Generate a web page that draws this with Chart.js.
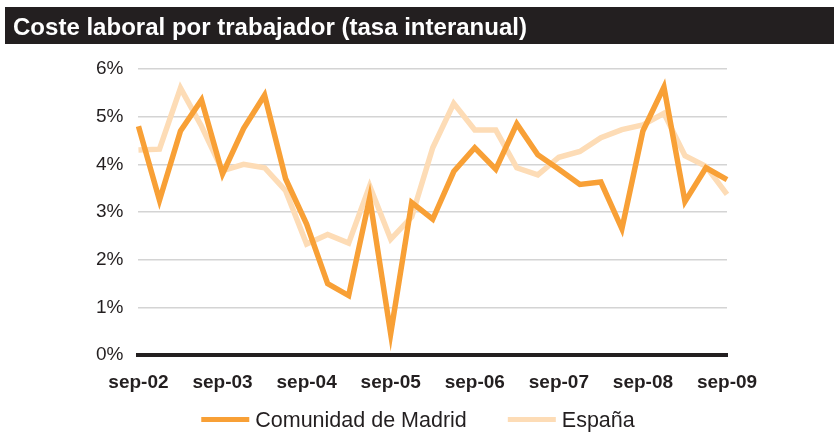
<!DOCTYPE html>
<html lang="es">
<head>
<meta charset="utf-8">
<title>Coste laboral por trabajador</title>
<script src="https://cdn.jsdelivr.net/npm/chart.js@4/dist/chart.umd.min.js"></script>
<style>
  html, body { margin: 0; padding: 0; background: #fff; }
  canvas { display: block; }
</style>
</head>
<body>
<canvas id="coste" width="834" height="432"></canvas>
<script>
// Trimestres, de sep-02 a sep-09
const trimestres = [
  'sep-02', 'dic-02', 'mar-03', 'jun-03',
  'sep-03', 'dic-03', 'mar-04', 'jun-04',
  'sep-04', 'dic-04', 'mar-05', 'jun-05',
  'sep-05', 'dic-05', 'mar-06', 'jun-06',
  'sep-06', 'dic-06', 'mar-07', 'jun-07',
  'sep-07', 'dic-07', 'mar-08', 'jun-08',
  'sep-08', 'dic-08', 'mar-09', 'jun-09',
  'sep-09',
];

// Tasa interanual (%)
const madrid = [
  4.80, 3.25, 4.70, 5.35, 3.80, 4.75, 5.45, 3.70,
  2.75, 1.50, 1.25, 3.30, 0.45, 3.20, 2.85, 3.85,
  4.35, 3.90, 4.85, 4.20, 3.90, 3.58, 3.63, 2.65,
  4.70, 5.62, 3.22, 3.93, 3.68,
];
const espana = [
  4.30, 4.32, 5.60, 4.80, 3.87, 4.00, 3.93, 3.45,
  2.33, 2.53, 2.35, 3.55, 2.43, 2.90, 4.35, 5.28,
  4.72, 4.72, 3.93, 3.78, 4.15, 4.27, 4.56, 4.73,
  4.83, 5.07, 4.18, 3.96, 3.37,
];

const yTicks = [0, 1, 2, 3, 4, 5, 6];

const titulo = 'Coste laboral por trabajador (tasa interanual)';
const ink = '#231f20';
const naranja = '#f8a036';
const crema = '#fddcb6';
const fam = '"Liberation Sans", Arial, sans-serif';

// barra negra con el título, estrechado al ancho de la cabecera
const cabecera = {
  id: 'cabecera',
  beforeDraw(chart) {
    const c = chart.ctx;
    c.save();
    c.fillStyle = ink;
    c.fillRect(5, 7, 829, 37);
    c.font = `bold 24px ${fam}`;
    c.fillStyle = '#fff';
    const w = c.measureText(titulo).width;
    c.translate(13, 35);
    c.scale(514 / w, 1);
    c.fillText(titulo, 0, 0);
    c.restore();
  },
};

// leyenda centrada bajo el eje: trazo de 48px + nombre de la serie
const leyenda = {
  id: 'leyenda',
  afterDraw(chart) {
    const c = chart.ctx;
    const sets = chart.data.datasets;
    c.save();
    c.font = `21.5px ${fam}`;
    c.textBaseline = 'middle';
    const box = 48, gap = 6, sep = 41;
    const widths = sets.map((d) => box + gap + c.measureText(d.label).width);
    const total = widths.reduce((a, b) => a + b, 0) + sep * (sets.length - 1);
    let x = (chart.width - total) / 2 + 1;
    const y = 420;
    sets.forEach((d, i) => {
      c.fillStyle = d.borderColor;
      c.fillRect(x, y - 3, box, 5);
      c.fillStyle = ink;
      c.fillText(d.label, x + box + gap, y + 1);
      x += widths[i] + sep;
    });
    c.restore();
  },
};

new Chart(document.getElementById('coste'), {
  type: 'line',
  data: {
    labels: trimestres,
    datasets: [
      { label: 'Comunidad de Madrid', data: madrid, borderColor: naranja, backgroundColor: naranja },
      { label: 'España', data: espana, borderColor: crema, backgroundColor: crema },
    ].map((d, i) => ({
      ...d,
      borderWidth: 5.5,
      pointRadius: 0,
      tension: 0,
      order: i === 0 ? 0 : 1,
    })),
  },
  options: {
    responsive: false,
    animation: false,
    layout: { padding: { top: 69, left: 81, right: 107, bottom: 30 } },
    plugins: {
      tooltip: { enabled: false },
      legend: { display: false },
    },
    scales: {
      x: {
        offset: false,
        grid: { display: false },
        border: { color: ink, width: 4 },
        ticks: {
          autoSkip: false,
          maxRotation: 0,
          color: ink,
          padding: 8,
          font: { family: fam, size: 19, weight: 'bold' },
          callback: (v, i) => (i % 4 === 0 ? trimestres[i] : null),
        },
      },
      y: {
        min: yTicks[0],
        max: yTicks[yTicks.length - 1],
        afterBuildTicks: (s) => { s.ticks = yTicks.map((v) => ({ value: v })); },
        border: { display: false },
        grid: {
          drawTicks: false,
          lineWidth: 1.5,
          color: (c) => (c.tick && c.tick.value === 0 ? 'rgba(0,0,0,0)' : '#d4d4d4'),
        },
        ticks: {
          color: ink,
          padding: 15,
          font: { family: fam, size: 19 },
          callback: (v) => v + '%',
        },
      },
    },
  },
  plugins: [cabecera, leyenda],
});
</script>
</body>
</html>
